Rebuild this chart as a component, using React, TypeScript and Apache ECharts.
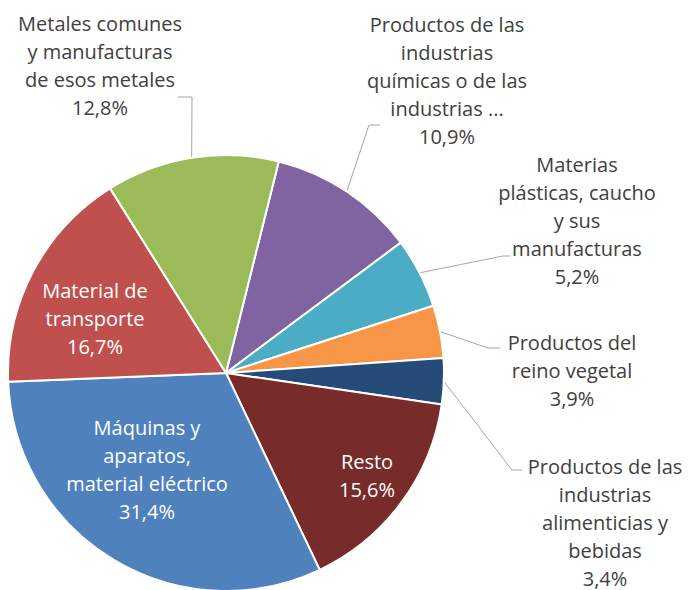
import React, { useEffect, useRef } from "react";
import * as echarts from "echarts";

const categories = [
  "Productos de las industrias químicas o de las industrias ...",
  "Materias plásticas, caucho y sus manufacturas",
  "Productos del reino vegetal",
  "Productos de las industrias alimenticias y bebidas",
  "Resto",
  "Máquinas y aparatos, material eléctrico",
  "Material de transporte",
  "Metales comunes y manufacturas de esos metales",
];
const wrappedLabels = [
  "Productos de las\nindustrias\nquímicas o de las\nindustrias ...",
  "Materias\nplásticas, caucho\ny sus\nmanufacturas",
  "Productos del\nreino vegetal",
  "Productos de las\nindustrias\nalimenticias y\nbebidas",
  "Resto",
  "Máquinas y\naparatos,\nmaterial eléctrico",
  "Material de\ntransporte",
  "Metales comunes\ny manufacturas\nde esos metales",
];
const values = [10.9, 5.2, 3.9, 3.4, 15.6, 31.4, 16.7, 12.8];
const colors = ["#8064A2", "#4BACC6", "#F79646", "#254B79", "#772C2A", "#4F81BD", "#C0504D", "#9BBB59"];
const insideLabel = [false, false, false, false, true, true, true, false];

// label anchor (centre of text block) and leader elbow/end points
const labelPos: [number, number][] = [
  [447, 80], [577, 220], [572, 370], [605, 522], [367, 475], [147, 469], [95, 318], [100, 65],
];
const leaderBend: ([number, number][] | null)[] = [
  [[369, 125], [380, 125]],
  [[503, 256], [510, 256]],
  [[488, 348], [500, 348]],
  [[512, 470], [522, 470]],
  null,
  null,
  null,
  [[192, 97], [178, 97]],
];

export default function App() {
  const ref = useRef<HTMLDivElement>(null);
  useEffect(() => {
    if (!ref.current) return;
    const chart = echarts.init(ref.current, null, { renderer: "svg" });
    const data = categories.map((name, i) => ({
      name,
      value: values[i],
      itemStyle: { color: colors[i] },
      label: {
        position: insideLabel[i] ? "inside" : "outside",
        color: insideLabel[i] ? "#ffffff" : "#404040",
      },
      labelLine: { show: !insideLabel[i] },
    }));
    chart.setOption({
      animation: false,
      series: [
        {
          type: "pie",
          center: [226, 373],
          radius: 218,
          startAngle: 76,
          clockwise: true,
          avoidLabelOverlap: false,
          itemStyle: { borderColor: "#ffffff", borderWidth: 2 },
          label: {
            show: true,
            fontFamily: "Open Sans",
            fontSize: 20,
            lineHeight: 28,
            align: "center",
            formatter: (p: any) =>
              wrappedLabels[p.dataIndex] + "\n" + values[p.dataIndex].toFixed(1).replace(".", ",") + "%",
          },
          labelLine: {
            show: true,
            length: 10,
            length2: 10,
            lineStyle: { color: "#A6A6A6", width: 1 },
          },
          labelLayout: (params: any) => {
            const i = params.dataIndex;
            const [x, y] = labelPos[i];
            const res: any = { x, y, align: "center", verticalAlign: "middle" };
            const bend = leaderBend[i];
            if (bend && params.labelLinePoints) {
              res.labelLinePoints = [params.labelLinePoints[0], bend[0], bend[1]];
            }
            return res;
          },
          data,
        },
      ],
    });
    return () => chart.dispose();
  }, []);
  return (
    <div
      ref={ref}
      style={{ position: "fixed", left: 0, top: 0, width: 693, height: 590, background: "#ffffff" }}
    />
  );
}
